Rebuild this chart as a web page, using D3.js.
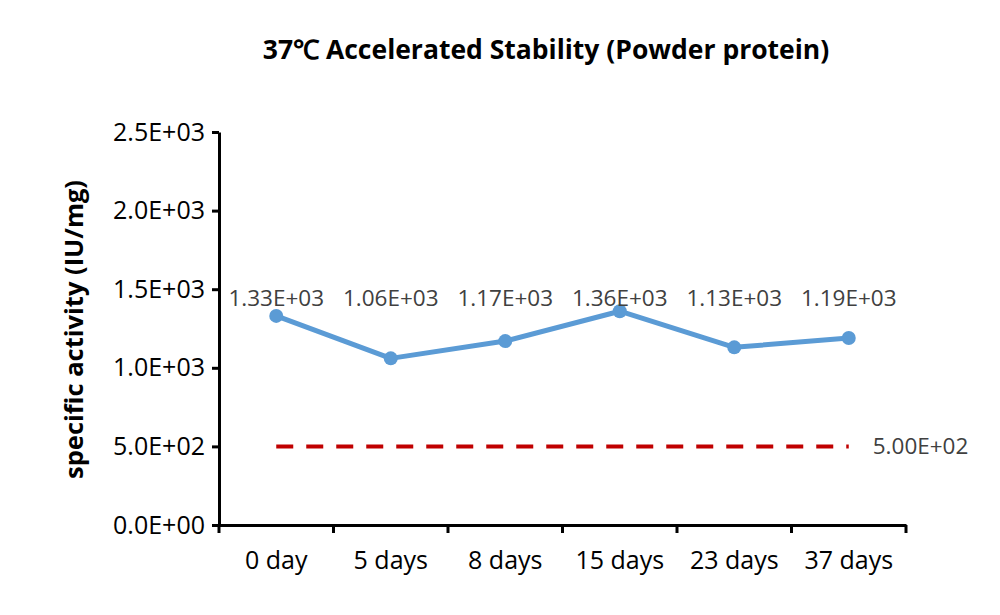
<!DOCTYPE html>
<html>
<head>
<meta charset="utf-8">
<script src="https://cdn.jsdelivr.net/npm/d3@7"></script>
<style>
  body { margin: 0; background: #fff; }
  text { font-family: "Open Sans", Lato, sans-serif; }
</style>
</head>
<body>
<div id="chart"></div>
<script>
const categories = ['0 day', '5 days', '8 days', '15 days', '23 days', '37 days'];
const activity = [1330, 1060, 1170, 1360, 1130, 1190];
const threshold = [500, 500, 500, 500, 500, 500];
const yTicks = [0, 500, 1000, 1500, 2000, 2500];

const width = 1000, height = 615;
const margin = {left: 219, right: 94, top: 132, bottom: 90};

const svg = d3.select('#chart').append('svg')
  .attr('width', width)
  .attr('height', height);

const x = d3.scaleBand()
  .domain(categories)
  .range([margin.left, width - margin.right]);

const y = d3.scaleLinear()
  .domain([0, 2500])
  .range([height - margin.bottom, margin.top]);

const fmt = v => {
  const e = Math.floor(Math.log10(v || 1));
  const m = v / Math.pow(10, e);
  return m.toFixed(1) + 'E+' + String(v ? e : 0).padStart(2, '0');
};
const fmt2 = v => {
  const e = Math.floor(Math.log10(v));
  return (v / Math.pow(10, e)).toFixed(2) + 'E+' + String(e).padStart(2, '0');
};

// title
svg.append('text')
  .attr('x', 546).attr('y', 59)
  .attr('text-anchor', 'middle')
  .style('font-size', '26.5px')
  .style('font-weight', 'bold')
  .text('37℃ Accelerated Stability (Powder protein)');

// y axis
const yAxis = svg.append('g')
  .attr('transform', `translate(${margin.left},0)`)
  .call(d3.axisLeft(y).tickValues(yTicks).tickFormat(fmt).tickSize(7).tickSizeOuter(0));
yAxis.select('.domain').attr('stroke', '#000').attr('stroke-width', 3);
yAxis.selectAll('.tick line').attr('stroke', '#000').attr('stroke-width', 3);
yAxis.selectAll('.tick text')
  .attr('x', -14)
  .style('font-size', '25px')
  .attr('fill', '#000');

// x axis
const xAxis = svg.append('g')
  .attr('transform', `translate(0,${y(0)})`)
  .call(d3.axisBottom(x).tickSize(0));
xAxis.select('.domain').attr('stroke', '#000').attr('stroke-width', 3);
xAxis.selectAll('.tick text')
  .attr('y', 26)
  .style('font-size', '25px')
  .attr('fill', '#000');
// category boundary ticks
const bounds = categories.map(c => x(c)).concat([x.range()[1]]);
xAxis.selectAll('.bound').data(bounds).enter().append('line')
  .attr('x1', d => d).attr('x2', d => d)
  .attr('y1', 0).attr('y2', 8)
  .attr('stroke', '#000').attr('stroke-width', 3);

// y axis title
svg.append('text')
  .attr('transform', `translate(83,${(y(0) + y(2500)) / 2 + 1}) rotate(-90)`)
  .attr('text-anchor', 'middle')
  .style('font-size', '25.5px')
  .style('font-weight', 'bold')
  .text('specific activity (IU/mg)');

const cx = c => x(c) + x.bandwidth() / 2;

// threshold line
svg.append('path')
  .datum(threshold)
  .attr('fill', 'none')
  .attr('stroke', '#C00000')
  .attr('stroke-width', 4)
  .attr('stroke-dasharray', '17,13')
  .attr('d', d3.line().x((d, i) => cx(categories[i])).y(d => y(d)));

svg.append('text')
  .attr('x', cx(categories[categories.length - 1]) + 24)
  .attr('y', y(threshold[threshold.length - 1]) + 8)
  .style('font-size', '22.5px')
  .attr('fill', '#404040')
  .text(fmt2(threshold[threshold.length - 1]));

// activity line
svg.append('path')
  .datum(activity)
  .attr('fill', 'none')
  .attr('stroke', '#5B9BD5')
  .attr('stroke-width', 5)
  .attr('stroke-linejoin', 'round')
  .attr('d', d3.line().x((d, i) => cx(categories[i])).y(d => y(d)));

svg.selectAll('.pt').data(activity).enter().append('circle')
  .attr('cx', (d, i) => cx(categories[i]))
  .attr('cy', d => y(d))
  .attr('r', 7)
  .attr('fill', '#5B9BD5');

svg.selectAll('.lbl').data(activity).enter().append('text')
  .attr('x', (d, i) => cx(categories[i]))
  .attr('y', 306)
  .attr('text-anchor', 'middle')
  .style('font-size', '22.5px')
  .attr('fill', '#404040')
  .text(d => fmt2(d));
</script>
</body>
</html>
